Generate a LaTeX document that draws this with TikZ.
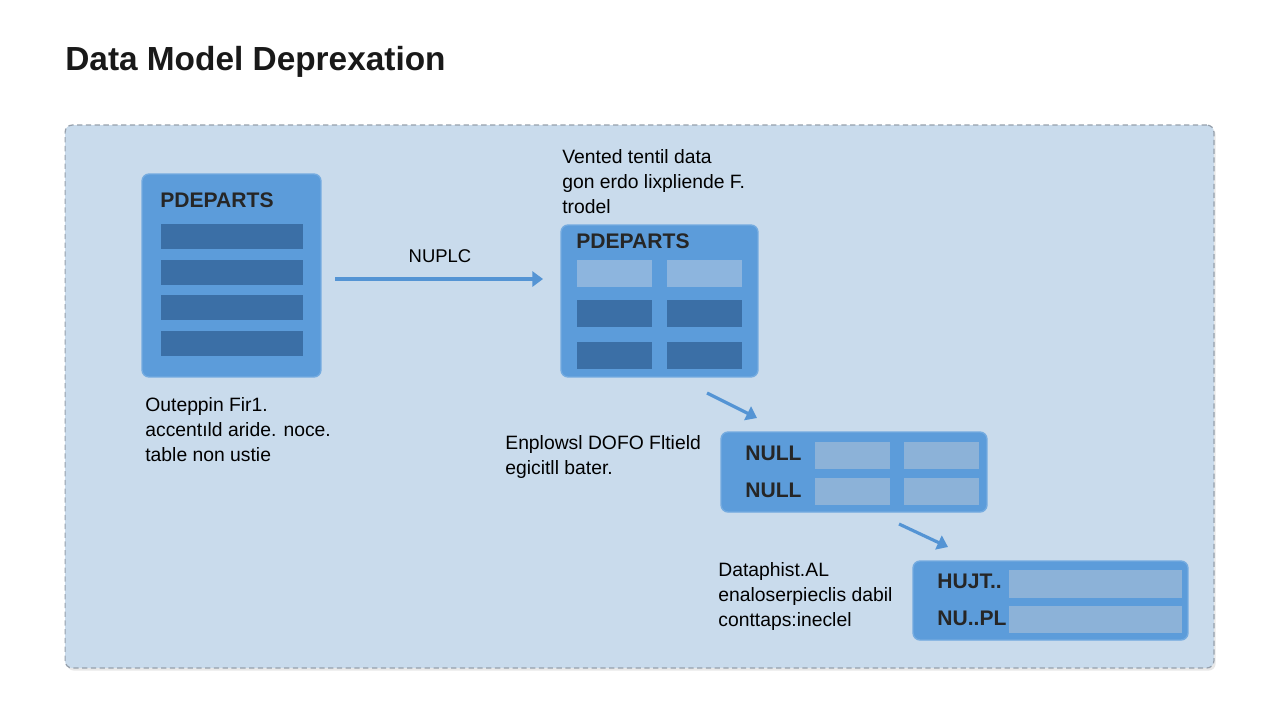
\documentclass[tikz,border=0pt]{standalone}
\usepackage{fontspec}
\setmainfont{Liberation Sans}
\usetikzlibrary{positioning, arrows.meta, shadows}
\definecolor{cPanel}{RGB}{201,219,236}
\definecolor{cDash} {RGB}{150,160,172}
\definecolor{cBox}  {RGB}{92,156,218}
\definecolor{cDark} {RGB}{59,111,166}
\definecolor{cLite} {RGB}{141,181,222}
\definecolor{cCell} {RGB}{140,178,216}
\definecolor{cArr}  {RGB}{84,148,212}
\tikzset{
  %% dashed background panel
  PANEL/.style={rectangle, rounded corners=4pt, draw=cDash, line width=0.7pt,
                dash pattern=on 3pt off 2pt, fill=cPanel,
                minimum width=22.98cm, minimum height=10.86cm,
                drop shadow={opacity=0.18, shadow xshift=1pt, shadow yshift=-1.5pt}},
  %% blue table box
  TBL/.style={rectangle, rounded corners=4pt, fill=cBox, draw=cBox!85!white,
              line width=0.8pt},
  %% row / cell inside a table
  CELL/.style={rectangle, fill=#1, inner sep=0pt, minimum height=0.54cm},
  %% table labels
  HDR/.style={inner sep=0pt, anchor=west, text=black!85,
              font=\fontsize{12}{14}\selectfont\bfseries},
  %% free description text
  DSC/.style={inner sep=0pt, anchor=north west, align=left,
              font=\fontsize{11}{14.4}\selectfont},
  %% arrows
  ARW/.style={-{Triangle[length=6pt,width=8.5pt]}, line width=1.8pt, color=cArr},
}

\begin{document}
\begin{tikzpicture}[x=0.02cm, y=-0.02cm]

\fill[white] (0,0) rectangle (1280,720);
\useasboundingbox (0,0) rectangle (1280,720);

%% ════════════════════════════════════════════════
%%  TITLE + PANEL
%% ════════════════════════════════════════════════
\node[inner sep=0pt, anchor=base west, text=black!90,
      font=\fontsize{19}{22}\selectfont\bfseries]
  (title) at (65,70) {Data Model Deprexation};

\node[PANEL] (panel) at (639.5,396.5) {};

%% ════════════════════════════════════════════════
%%  TABLE A  (left, four dark rows)
%% ════════════════════════════════════════════════
\node[TBL, minimum width=3.58cm, minimum height=4.06cm] (tblA) at (231.5,275.5) {};
\node[HDR] (hdrA) at (160,200.5) {PDEPARTS};
\foreach \y [count=\i] in {236,272,307,343}
  \node[CELL=cDark, minimum width=2.84cm, minimum height=0.5cm] (rowA-\i) at (232,\y) {};

\node[DSC] (txtA) at (145,397)
  {Outeppin Fir1.\\accentıld aride. noce.\\table non ustie};

%% ════════════════════════════════════════════════
%%  TABLE B  (centre, 3 x 2 cells)
%% ════════════════════════════════════════════════
\node[DSC] (txtB) at (562,149)
  {Vented tentil data\\gon erdo lixpliende F.\\trodel};

\node[TBL, minimum width=3.94cm, minimum height=3.04cm] (tblB) at (659.5,301) {};
\node[HDR] (hdrB) at (576,241) {PDEPARTS};
\foreach \x [count=\j] in {614,704.5} {
  \node[CELL=cLite, minimum width=1.5cm] (cellB-1-\j) at (\x,273.5) {};
  \node[CELL=cDark, minimum width=1.5cm] (cellB-2-\j) at (\x,313.5) {};
  \node[CELL=cDark, minimum width=1.5cm] (cellB-3-\j) at (\x,355.5) {};
}

%% ════════════════════════════════════════════════
%%  TABLE C  (NULL rows)
%% ════════════════════════════════════════════════
\node[DSC] (txtC) at (505,435)
  {Enplowsl DOFO Fltield\\egicitll bater.};

\node[TBL, minimum width=5.32cm, minimum height=1.6cm] (tblC) at (854,472) {};
\node[HDR] (nullC-1) at (745,453) {NULL};
\node[HDR] (nullC-2) at (745,490) {NULL};
\foreach \x [count=\j] in {852.5,941.5} {
  \node[CELL=cCell, minimum width=1.5cm] (cellC-1-\j) at (\x,455.5) {};
  \node[CELL=cCell, minimum width=1.5cm] (cellC-2-\j) at (\x,491.5) {};
}

%% ════════════════════════════════════════════════
%%  TABLE D  (bottom right, wide cells)
%% ════════════════════════════════════════════════
\node[DSC] (txtD) at (718,562)
  {Dataphist.AL\\enaloserpieclis dabil\\conttaps:ineclel};

\node[TBL, minimum width=5.5cm, minimum height=1.58cm] (tblD) at (1050.5,600.5) {};
\node[HDR] (hdrD-1) at (937,581) {HUJT..};
\node[HDR] (hdrD-2) at (937,618) {NU..PL};
\node[CELL=cCell, minimum width=3.46cm, minimum height=0.56cm] (cellD-1) at (1095.5,584) {};
\node[CELL=cCell, minimum width=3.46cm] (cellD-2) at (1095.5,619.5) {};

%% ════════════════════════════════════════════════
%%  ARROWS
%% ════════════════════════════════════════════════
\coordinate (a1s) at (335,279);
\coordinate (a1e) at (543,279);
\coordinate (a2s) at (707,393);
\coordinate (a2e) at (757,418);
\coordinate (a3s) at (899,524);
\coordinate (a3e) at (948,547);

%% Table A → Table B
\draw[ARW] (a1s) -- (a1e);
\node[inner sep=0pt, font=\fontsize{10.5}{12}\selectfont] (lblA) at (440,256) {NUPLC};

%% Table B → Table C
\draw[ARW] (a2s) -- (a2e);

%% Table C → Table D
\draw[ARW] (a3s) -- (a3e);

\end{tikzpicture}
\end{document}
